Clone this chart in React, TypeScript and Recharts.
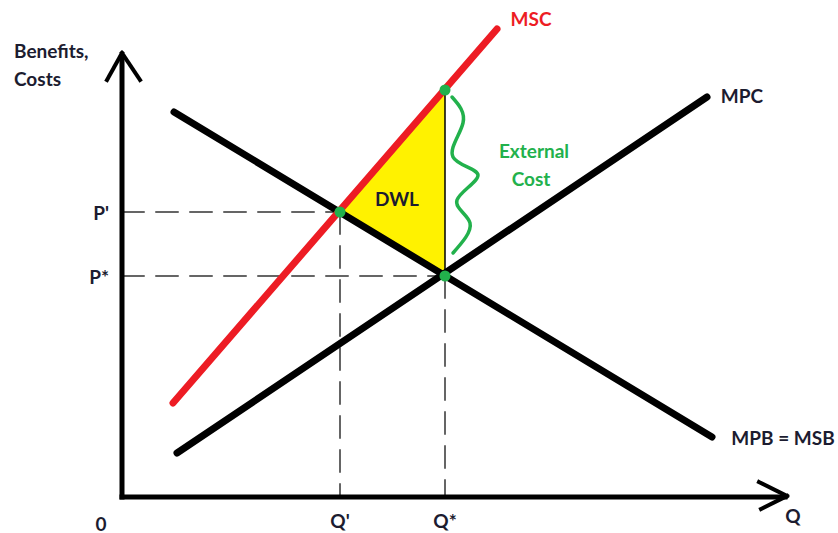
import React from 'react';
import { ComposedChart, Line, Area, XAxis, YAxis, ReferenceLine, ReferenceDot } from 'recharts';

// Quantities and prices in chart units (0..67 across, 0..48 up)
const qPrime = 21.8;
const qStar = 32.3;
const pPrime = 28.5;
const pStar = 22.1;
const mscAtQStar = 40.7;

// Curve end points
const mpbQ = [5.2, 59.0];
const mpbP = [38.5, 6.0];
const mpcQ = [5.5, 58.5];
const mpcP = [4.4, 40.0];
const mscQ = [5.1, 37.5];
const mscP = [9.4, 46.8];

// Wavy brace marking the external cost
const braceQ = [33.0, 34.1, 33.1, 35.6, 33.5, 34.8, 33.1];
const braceP = [40.0, 37.4, 34.0, 32.2, 29.7, 27.4, 24.4];

const xTicks = [0, qPrime, qStar];
const xTickText = ['0', "Q'", 'Q*'];
const yTicks = [pStar, pPrime];
const yTickText = ['P*', "P'"];

const toPoints = (qs: number[], ps: number[]) => qs.map((q, i) => ({ q, p: ps[i] }));

const mpbData = toPoints(mpbQ, mpbP);
const mpcData = toPoints(mpcQ, mpcP);
const mscData = toPoints(mscQ, mscP);
const braceData = toPoints(braceQ, braceP);
const dwlData = [
  { q: qPrime, low: pPrime, high: pPrime },
  { q: qStar, low: pStar, high: mscAtQStar },
];

const FONT = "Lato, 'Open Sans', sans-serif";
const INK = '#1c1c30';
const RED = '#ed1c24';
const GREEN = '#22b14c';
const YELLOW = '#fff200';

const tag = (key: string, x: number, y: number, text: string, color: string, size = 19, anchor = 'middle') => (
  <ReferenceDot
    key={key}
    x={x}
    y={y}
    r={0}
    ifOverflow="visible"
    stroke="none"
    fill="none"
    label={{
      content: (props: any) => (
        <text
          x={props.viewBox.x + (props.viewBox.width || 0) / 2}
          y={props.viewBox.y + (props.viewBox.height || 0) / 2}
          textAnchor={anchor}
          dominantBaseline="central"
          fill={color}
          fontFamily={FONT}
          fontWeight={700}
          fontSize={size}
        >
          {text}
        </text>
      ),
    }}
  />
);

const seg = (key: string, a: [number, number], b: [number, number], width: number, color = '#000', dash?: string) => (
  <ReferenceLine
    key={key}
    segment={[{ x: a[0], y: a[1] }, { x: b[0], y: b[1] }]}
    stroke={color}
    strokeWidth={width}
    strokeDasharray={dash}
    strokeLinecap="square"
    ifOverflow="visible"
  />
);

const XTick = (props: any) => {
  const { x, y, payload } = props;
  const i = xTicks.indexOf(payload.value);
  const shift = payload.value === 0 ? -21 : 0;
  const drop = payload.value === 0 ? 18 : 15;
  return (
    <text x={x + shift} y={y} dy={drop} textAnchor="middle" dominantBaseline="central" fill={INK} fontFamily={FONT} fontWeight={700} fontSize={19}>
      {xTickText[i]}
    </text>
  );
};

const YTick = (props: any) => {
  const { y, payload } = props;
  const i = yTicks.indexOf(payload.value);
  return (
    <text x={109} y={y} textAnchor="end" dominantBaseline="central" fill={INK} fontFamily={FONT} fontWeight={700} fontSize={19}>
      {yTickText[i]}
    </text>
  );
};

export default function App() {
  return (
    <div style={{ position: 'absolute', left: 0, top: 0, width: 838, height: 533, background: '#fff' }}>
      <ComposedChart width={838} height={533} margin={{ top: 17, right: 46, bottom: 0, left: 0 }}>
        <XAxis dataKey="q" type="number" domain={[0, 67]} ticks={xTicks} tick={<XTick />} axisLine={false} tickLine={false} height={36} allowDataOverflow />
        <YAxis dataKey="p" type="number" domain={[0, 48]} ticks={yTicks} tick={<YTick />} axisLine={false} tickLine={false} width={122} allowDataOverflow />

        {/* deadweight loss triangle */}
        <Area
          data={dwlData}
          dataKey={(d: any) => [d.low, d.high]}
          type="linear"
          stroke="none"
          fill={YELLOW}
          fillOpacity={1}
          isAnimationActive={false}
        />

        {/* guide lines */}
        {seg('hp1', [0, pPrime], [qPrime, pPrime], 1.5, '#333', '22 12')}
        {seg('hp2', [0, pStar], [qStar, pStar], 1.5, '#333', '22 12')}
        {seg('vq1', [qPrime, pPrime], [qPrime, 0], 1.5, '#333', '22 12')}
        {seg('vq2', [qStar, pStar], [qStar, 0], 1.5, '#333', '22 12')}
        {seg('edge', [qStar, pStar], [qStar, mscAtQStar], 1.5, '#000')}

        {/* axes with arrow heads */}
        {seg('yax', [0, 43.8], [0, 0], 5)}
        {seg('xax', [0, 0], [66.3, 0], 5)}
        {seg('ya1', [-1.5, 41.7], [0, 44.4], 4)}
        {seg('ya2', [1.8, 41.7], [0, 44.4], 4)}
        {seg('xa1', [63.7, 1.5], [66.5, 0.1], 4)}
        {seg('xa2', [63.9, -1.2], [66.5, 0.1], 4)}

        <Line data={mpbData} dataKey="p" type="linear" stroke="#000" strokeWidth={7} strokeLinecap="round" dot={false} isAnimationActive={false} />
        <Line data={mpcData} dataKey="p" type="linear" stroke="#000" strokeWidth={7} strokeLinecap="round" dot={false} isAnimationActive={false} />
        <Line data={mscData} dataKey="p" type="linear" stroke={RED} strokeWidth={7} strokeLinecap="round" dot={false} isAnimationActive={false} />
        <Line data={braceData} dataKey="p" type="natural" stroke={GREEN} strokeWidth={3.5} strokeLinecap="round" dot={false} isAnimationActive={false} />

        <ReferenceDot x={qPrime} y={pPrime} r={5.5} fill={GREEN} stroke="none" />
        <ReferenceDot x={qStar} y={pStar} r={5.5} fill={GREEN} stroke="none" />
        <ReferenceDot x={qStar} y={mscAtQStar} r={5.5} fill={GREEN} stroke="none" />

        {tag('msc', 40.9, 47.9, 'MSC', RED)}
        {tag('mpc', 62.0, 40.2, 'MPC', INK)}
        {tag('mpb', 66.1, 6.0, 'MPB = MSB', INK)}
        {tag('q', 67.1, -1.8, 'Q', INK)}
        {tag('ext1', 41.2, 34.7, 'External', GREEN)}
        {tag('ext2', 40.9, 31.9, 'Cost', GREEN)}
        {tag('dwl', 27.5, 29.9, 'DWL', INK)}
        {tag('ben', -10.8, 44.7, 'Benefits,', INK, 19, 'start')}
        {tag('cost', -10.8, 41.9, 'Costs', INK, 19, 'start')}
      </ComposedChart>
    </div>
  );
}
